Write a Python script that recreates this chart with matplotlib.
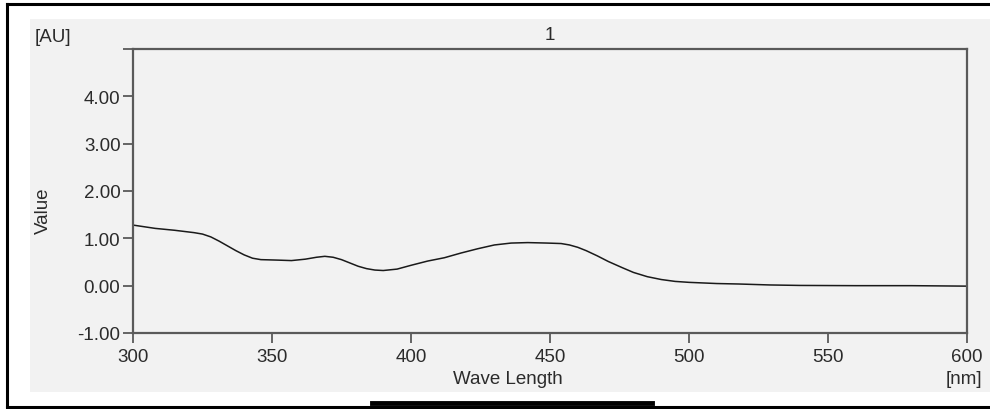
import matplotlib.pyplot as plt
from matplotlib.patches import Rectangle
from matplotlib.lines import Line2D

# absorbance spectrum, sample 1
wavelength = [300, 308, 315, 322, 325, 328, 331, 334, 337, 340, 343, 346, 352,
              357, 362, 366, 369, 372, 375, 378, 381, 384, 387, 390, 395, 400,
              406, 412, 418, 424, 430, 436, 442, 449, 454, 457, 460, 463, 467,
              471, 476, 480, 485, 490, 495, 500, 504, 510, 518, 529, 540, 560,
              580, 600]
absorbance = [1.28, 1.21, 1.17, 1.12, 1.09, 1.03, 0.94, 0.84, 0.74, 0.65, 0.58,
              0.55, 0.54, 0.53, 0.56, 0.60, 0.62, 0.60, 0.55, 0.48, 0.41, 0.36,
              0.33, 0.32, 0.35, 0.43, 0.52, 0.59, 0.69, 0.78, 0.86, 0.90, 0.91,
              0.90, 0.89, 0.86, 0.81, 0.74, 0.63, 0.51, 0.38, 0.28, 0.19, 0.13,
              0.09, 0.07, 0.06, 0.045, 0.035, 0.015, 0.005, 0.0, 0.0, -0.01]

x_ticks = [300, 350, 400, 450, 500, 550, 600]
y_ticks = [-1, 0, 1, 2, 3, 4, 5]
y_labels = ["-1.00", "0.00", "1.00", "2.00", "3.00", "4.00", ""]

W, H = 990, 410
plt.rcParams['font.family'] = ['Liberation Sans', 'DejaVu Sans']
txt = '#2b2b2b'
spine_c = '#5a5a5a'
panel = '#f2f2f2'

fig = plt.figure(figsize=(W / 100, H / 100), dpi=100)
fig.patch.set_facecolor('white')


def fx(px):
    return px / W


def fy(py):
    return 1 - py / H


# grey panel and frame
fig.patches.append(Rectangle((fx(30), fy(393)), fx(960), (393 - 20) / H,
                             transform=fig.transFigure, facecolor=panel,
                             edgecolor='none', zorder=-5))
for xs, ys, lw in [([fx(7), fx(990)], [fy(5), fy(5)], 2.2),
                   ([fx(7), fx(7)], [fy(5), fy(407)], 2.2),
                   ([fx(7), fx(990)], [fy(407.5), fy(407.5)], 2.2),
                   ([fx(372), fx(652)], [fy(404), fy(404)], 3.5)]:
    fig.lines.append(Line2D(xs, ys, transform=fig.transFigure,
                            color='black', lw=lw, zorder=-4))

ax = fig.add_axes([fx(133), fy(334), fx(967 - 133), (334 - 50) / H])
ax.set_facecolor(panel)
ax.plot(wavelength, absorbance, color='#1a1a1a', lw=1.1)

ax.set_xlim(300, 600)
ax.set_ylim(-1, 5)
ax.set_xticks(x_ticks)
ax.set_xticklabels([str(v) for v in x_ticks])
ax.set_yticks(y_ticks)
ax.set_yticklabels(y_labels)
for s in ax.spines.values():
    s.set_color(spine_c)
    s.set_linewidth(1.6)
ax.tick_params(axis='both', colors=spine_c, labelcolor=txt, labelsize=13.5,
               length=7, width=1.3, direction='out')
ax.tick_params(axis='x', pad=4)
ax.tick_params(axis='y', pad=2)

fig.text(fx(550), fy(35), "1", ha='center', va='center', fontsize=13.5,
         color=txt)
fig.text(fx(35), fy(37), "[AU]", ha='left', va='center', fontsize=13.5,
         color=txt)
fig.text(fx(43), fy(211), "Value", ha='center', va='center', rotation=90,
         fontsize=13.5, color=txt)
fig.text(fx(508), fy(380), "Wave Length", ha='center', va='center',
         fontsize=13.5, color=txt)
fig.text(fx(982), fy(380), "[nm]", ha='right', va='center', fontsize=13.5,
         color=txt)

fig.savefig('out.png', dpi=100)
